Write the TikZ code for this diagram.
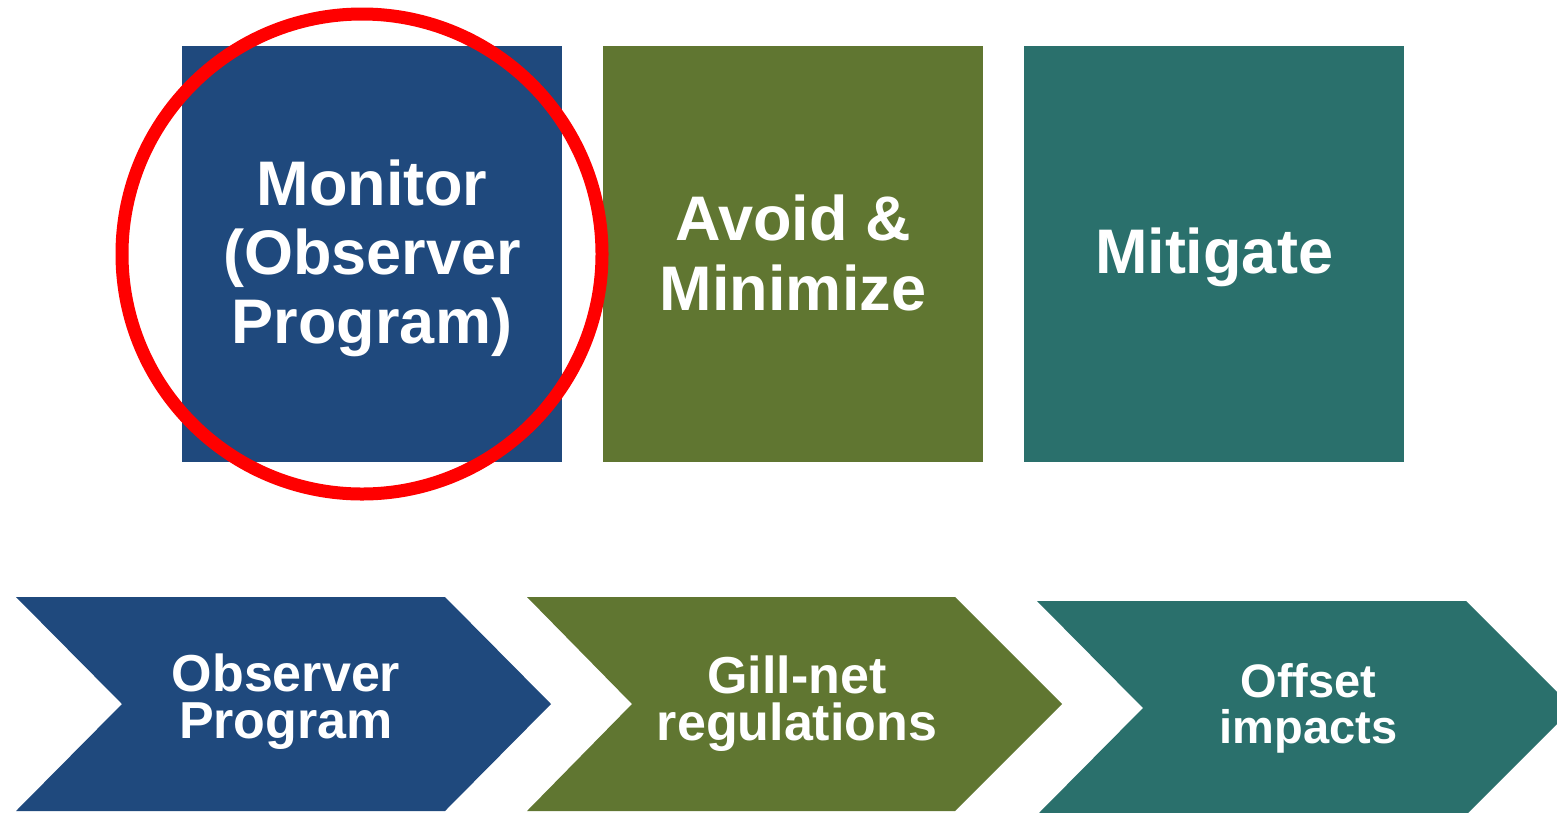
\documentclass[tikz,border=0pt]{standalone}
\usepackage{fontspec}
\setmainfont{Liberation Sans}
\definecolor{cblue}{RGB}{31,73,125}
\definecolor{cgreen}{RGB}{96,118,49}
\definecolor{cteal}{RGB}{42,112,108}
\definecolor{cred}{RGB}{255,0,0}
\begin{document}
\begin{tikzpicture}[x=1pt,y=-1pt,
  sq/.style={draw=none,inner sep=0pt,minimum width=380pt,minimum height=416pt,rectangle},
  toptext/.style={text=white,align=center,anchor=base,inner sep=0pt,font={\fontsize{63}{69}\selectfont\bfseries}},
  bottext/.style={text=white,align=center,anchor=base,inner sep=0pt,font={\fontsize{52}{46.5}\selectfont\bfseries}}]
\useasboundingbox (0,0) rectangle (1557,812);
\clip (0,0) rectangle (1557,812);
% top squares
\node[sq,fill=cblue] (s1) at (372,254) {};
\node[sq,fill=cgreen] (s2) at (793,254) {};
\node[sq,fill=cteal] (s3) at (1214,254) {};
% chevrons
\fill[cblue] (16,597) -- (445,597) -- (551,704) -- (445,811) -- (16,811) -- (122,704) -- cycle;
\fill[cgreen] (527,597) -- (955,597) -- (1062,704) -- (955,811) -- (527,811) -- (632,704) -- cycle;
\fill[cteal] (1037,601) -- (1466,601) -- (1573,708) -- (1466,815) -- (1037,815) -- (1143,708) -- cycle;
% top texts (base anchor = baseline of last line)
\node[toptext] (t1) at (372,343) {Monitor\\(Observer\\Program)};
\node[toptext,font={\fontsize{63}{70}\selectfont\bfseries}] (t2) at (793,310) {Avoid \&\\Minimize};
\node[toptext] (t3) at (1214,273) {Mitigate};
% bottom texts
\node[bottext] (b1) at (286,738) {Observer\\Program};
\node[bottext,font={\fontsize{52}{47}\selectfont\bfseries}] (b2) at (797,740) {Gill-net\\regulations};
\node[bottext,font={\fontsize{47}{46}\selectfont\bfseries}] (b3) at (1308.5,743) {Offset\\impacts};
% red circle
\node[circle,draw=cred,line width=13pt,minimum size=480pt,inner sep=0pt] (c1) at (362,254) {};
\end{tikzpicture}
\end{document}
